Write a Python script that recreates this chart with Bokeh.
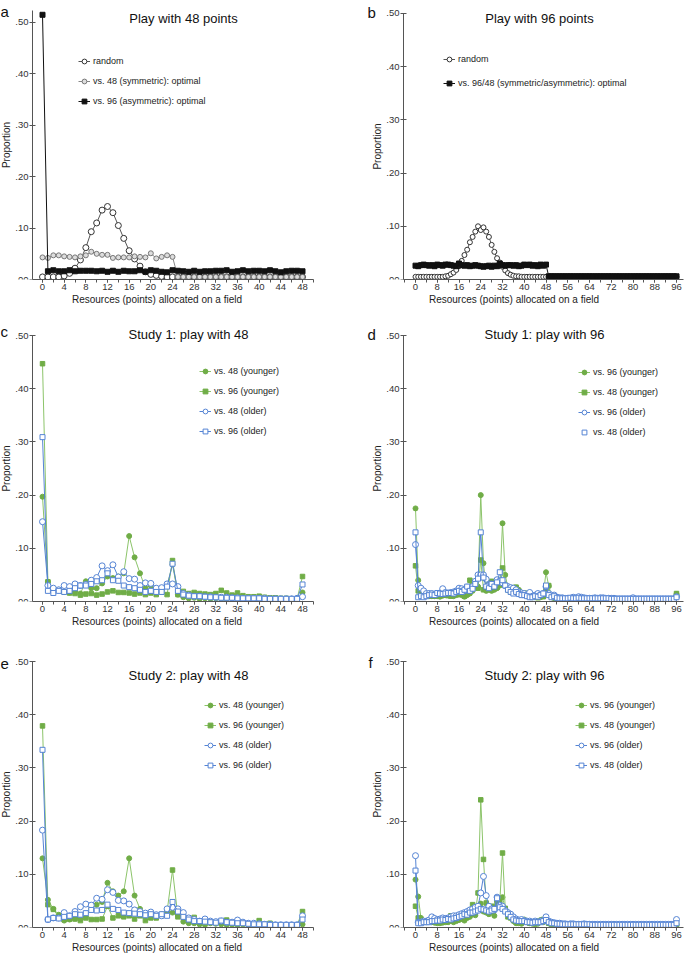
from bokeh.plotting import figure
from bokeh.models import (Range1d, SingleIntervalTicker, FixedTicker, CustomJSTickFormatter,
                          Label, Legend, LegendItem)
from bokeh.layouts import column, row
from bokeh.embed import file_html
from bokeh.resources import INLINE

FONT = "Liberation Sans"
GREEN = "#70AD47"
GREEN_LINE = "#8cc46a"
BLUE = "#5584d4"

x48 = list(range(49))
x96 = list(range(97))

# ---------------- Panel a: Play with 48 points ----------------
a_random = [0.005, 0.005, 0.005, 0.005, 0.007, 0.012, 0.022, 0.038, 0.062, 0.093,
            0.110, 0.135, 0.142, 0.130, 0.105, 0.080, 0.056, 0.040, 0.026, 0.015,
            0.010, 0.008, 0.006, 0.005, 0.005, 0.005, 0.005, 0.005, 0.005, 0.005,
            0.005, 0.005, 0.005, 0.005, 0.005, 0.005, 0.005, 0.005, 0.005, 0.005,
            0.005, 0.005, 0.005, 0.005, 0.005, 0.005, 0.005, 0.005, 0.005]
a_sym = [0.043, 0.042, 0.047, 0.047, 0.045, 0.044, 0.043, 0.045, 0.047, 0.054,
         0.050, 0.048, 0.048, 0.042, 0.043, 0.043, 0.043, 0.045, 0.044, 0.043,
         0.051, 0.041, 0.044, 0.047, 0.044, 0.005, 0.005, 0.005, 0.005, 0.005,
         0.005, 0.005, 0.005, 0.005, 0.005, 0.005, 0.005, 0.005, 0.005, 0.005,
         0.005, 0.005, 0.005, 0.005, 0.005, 0.005, 0.005, 0.005, 0.005]
a_asym = [0.515, 0.016, 0.018, 0.016, 0.016, 0.018, 0.016, 0.017, 0.017, 0.017,
          0.016, 0.017, 0.015, 0.017, 0.015, 0.017, 0.016, 0.016, 0.018, 0.015,
          0.018, 0.017, 0.015, 0.014, 0.018, 0.017, 0.016, 0.015, 0.017, 0.015,
          0.016, 0.016, 0.017, 0.017, 0.018, 0.015, 0.016, 0.018, 0.016, 0.017,
          0.017, 0.016, 0.018, 0.016, 0.014, 0.016, 0.017, 0.017, 0.016]

# ---------------- Panel b: Play with 96 points ----------------
b_random = [0.005, 0.005, 0.005, 0.005, 0.005, 0.005, 0.005, 0.005, 0.005, 0.005,
            0.005, 0.006, 0.007, 0.010, 0.013, 0.018, 0.025, 0.035, 0.046, 0.056,
            0.070, 0.080, 0.090, 0.100, 0.093, 0.098, 0.090, 0.080, 0.065, 0.052,
            0.040, 0.032, 0.024, 0.017, 0.012, 0.009, 0.007, 0.006, 0.006, 0.005,
            0.005, 0.005, 0.005, 0.005, 0.005, 0.005, 0.005, 0.005, 0.005, 0.005,
            0.005, 0.005, 0.005, 0.005, 0.005, 0.005, 0.005, 0.005, 0.005, 0.005,
            0.005, 0.005, 0.005, 0.005, 0.005, 0.005, 0.005, 0.005, 0.005, 0.005,
            0.005, 0.005, 0.005, 0.005, 0.005, 0.005, 0.005, 0.005, 0.005, 0.005,
            0.005, 0.005, 0.005, 0.005, 0.005, 0.005, 0.005, 0.005, 0.005, 0.005,
            0.005, 0.005, 0.005, 0.005, 0.005, 0.005, 0.005]
b_opt = [0.026, 0.025, 0.027, 0.028, 0.027, 0.026, 0.027, 0.025, 0.028, 0.027,
         0.026, 0.028, 0.028, 0.027, 0.026, 0.025, 0.030, 0.027, 0.026, 0.027,
         0.025, 0.026, 0.027, 0.026, 0.025, 0.024, 0.025, 0.026, 0.024, 0.026,
         0.025, 0.030, 0.027, 0.026, 0.027, 0.027, 0.026, 0.027, 0.025, 0.026,
         0.028, 0.027, 0.028, 0.026, 0.027, 0.025, 0.028, 0.026, 0.028, 0.006,
         0.006, 0.006, 0.006, 0.006, 0.006, 0.006, 0.006, 0.006, 0.006, 0.006,
         0.006, 0.006, 0.006, 0.006, 0.006, 0.006, 0.006, 0.006, 0.006, 0.006,
         0.006, 0.006, 0.006, 0.006, 0.006, 0.006, 0.006, 0.006, 0.006, 0.006,
         0.006, 0.006, 0.006, 0.006, 0.006, 0.006, 0.006, 0.006, 0.006, 0.006,
         0.006, 0.006, 0.006, 0.006, 0.006, 0.006, 0.006]

# ---------------- Panel c: Study 1, play with 48 ----------------
c_g48 = [0.197, 0.037, 0.020, 0.022, 0.018, 0.017, 0.020, 0.015, 0.038, 0.025,
         0.025, 0.034, 0.047, 0.044, 0.047, 0.053, 0.123, 0.083, 0.053, 0.025,
         0.030, 0.018, 0.022, 0.030, 0.070, 0.013, 0.008, 0.006, 0.007, 0.005,
         0.006, 0.005, 0.006, 0.005, 0.005, 0.006, 0.005, 0.005, 0.005, 0.006,
         0.005, 0.005, 0.005, 0.005, 0.005, 0.005, 0.005, 0.005, 0.017]
c_g96 = [0.447, 0.037, 0.020, 0.022, 0.018, 0.016, 0.015, 0.012, 0.014, 0.015,
         0.012, 0.014, 0.018, 0.020, 0.017, 0.017, 0.016, 0.014, 0.016, 0.013,
         0.016, 0.013, 0.018, 0.013, 0.077, 0.013, 0.019, 0.015, 0.017, 0.015,
         0.014, 0.013, 0.015, 0.021, 0.016, 0.012, 0.016, 0.011, 0.009, 0.009,
         0.010, 0.008, 0.007, 0.007, 0.006, 0.006, 0.005, 0.005, 0.047]
c_b48 = [0.150, 0.030, 0.025, 0.022, 0.030, 0.028, 0.033, 0.030, 0.032, 0.040,
         0.045, 0.067, 0.058, 0.069, 0.046, 0.056, 0.043, 0.042, 0.030, 0.035,
         0.034, 0.025, 0.026, 0.033, 0.033, 0.028, 0.015, 0.012, 0.010, 0.010,
         0.009, 0.009, 0.008, 0.008, 0.008, 0.007, 0.007, 0.006, 0.006, 0.006,
         0.006, 0.006, 0.005, 0.005, 0.005, 0.005, 0.005, 0.006, 0.009]
c_b96 = [0.309, 0.020, 0.016, 0.020, 0.018, 0.020, 0.025, 0.030, 0.030, 0.033,
         0.038, 0.040, 0.053, 0.040, 0.039, 0.030, 0.027, 0.025, 0.022, 0.018,
         0.020, 0.018, 0.018, 0.028, 0.071, 0.020, 0.013, 0.011, 0.010, 0.010,
         0.009, 0.008, 0.008, 0.007, 0.007, 0.007, 0.006, 0.006, 0.006, 0.006,
         0.006, 0.005, 0.005, 0.005, 0.005, 0.005, 0.005, 0.005, 0.032]

# ---------------- Panel d: Study 1, play with 96 ----------------
d_g96 = [0.175, 0.040, 0.020, 0.015, 0.012, 0.010, 0.010, 0.010, 0.010, 0.009,
         0.011, 0.012, 0.012, 0.011, 0.010, 0.012, 0.013, 0.012, 0.009, 0.012,
         0.015, 0.020, 0.030, 0.028, 0.200, 0.072, 0.020, 0.022, 0.020, 0.022,
         0.025, 0.030, 0.147, 0.050, 0.025, 0.022, 0.020, 0.026, 0.022, 0.015,
         0.014, 0.012, 0.010, 0.008, 0.010, 0.009, 0.008, 0.012, 0.055, 0.029,
         0.008, 0.006, 0.005, 0.005, 0.005, 0.005, 0.005, 0.004, 0.005, 0.005,
         0.005, 0.005, 0.004, 0.005, 0.005, 0.004, 0.005, 0.005, 0.004, 0.004,
         0.004, 0.005, 0.004, 0.004, 0.004, 0.004, 0.004, 0.004, 0.004, 0.004,
         0.004, 0.004, 0.004, 0.004, 0.004, 0.004, 0.004, 0.004, 0.004, 0.004,
         0.004, 0.004, 0.004, 0.004, 0.004, 0.004, 0.014]
d_g48 = [0.067, 0.020, 0.018, 0.013, 0.012, 0.010, 0.011, 0.010, 0.010, 0.011,
         0.013, 0.012, 0.011, 0.010, 0.012, 0.013, 0.015, 0.014, 0.010, 0.014,
         0.040, 0.033, 0.036, 0.025, 0.078, 0.022, 0.023, 0.035, 0.038, 0.033,
         0.027, 0.035, 0.063, 0.030, 0.022, 0.018, 0.026, 0.027, 0.018, 0.014,
         0.016, 0.012, 0.010, 0.009, 0.008, 0.007, 0.010, 0.009, 0.020, 0.030,
         0.010, 0.008, 0.006, 0.006, 0.005, 0.005, 0.005, 0.005, 0.005, 0.005,
         0.005, 0.005, 0.005, 0.005, 0.005, 0.005, 0.005, 0.005, 0.005, 0.005,
         0.005, 0.005, 0.005, 0.004, 0.004, 0.004, 0.004, 0.004, 0.004, 0.004,
         0.004, 0.004, 0.004, 0.004, 0.004, 0.004, 0.004, 0.004, 0.004, 0.004,
         0.004, 0.004, 0.004, 0.004, 0.004, 0.004, 0.015]
d_b96 = [0.107, 0.030, 0.025, 0.020, 0.015, 0.015, 0.015, 0.013, 0.014, 0.016,
         0.024, 0.017, 0.016, 0.017, 0.018, 0.020, 0.025, 0.024, 0.020, 0.027,
         0.026, 0.028, 0.038, 0.050, 0.050, 0.050, 0.042, 0.030, 0.033, 0.030,
         0.041, 0.038, 0.035, 0.030, 0.028, 0.026, 0.025, 0.022, 0.018, 0.016,
         0.015, 0.013, 0.017, 0.010, 0.012, 0.015, 0.013, 0.015, 0.028, 0.015,
         0.012, 0.012, 0.008, 0.007, 0.007, 0.006, 0.006, 0.006, 0.008, 0.007,
         0.009, 0.008, 0.007, 0.006, 0.006, 0.006, 0.007, 0.006, 0.007, 0.007,
         0.006, 0.006, 0.006, 0.006, 0.005, 0.005, 0.005, 0.005, 0.005, 0.005,
         0.007, 0.005, 0.005, 0.005, 0.005, 0.005, 0.005, 0.005, 0.005, 0.005,
         0.005, 0.005, 0.005, 0.005, 0.005, 0.005, 0.009]
d_b48 = [0.130, 0.008, 0.010, 0.008, 0.010, 0.012, 0.013, 0.012, 0.016, 0.015,
         0.014, 0.015, 0.016, 0.016, 0.015, 0.018, 0.020, 0.018, 0.022, 0.028,
         0.020, 0.024, 0.033, 0.043, 0.130, 0.045, 0.028, 0.025, 0.033, 0.028,
         0.036, 0.055, 0.040, 0.030, 0.022, 0.018, 0.015, 0.018, 0.014, 0.012,
         0.012, 0.010, 0.008, 0.008, 0.010, 0.009, 0.012, 0.015, 0.030, 0.012,
         0.008, 0.010, 0.007, 0.006, 0.006, 0.006, 0.006, 0.007, 0.006, 0.006,
         0.007, 0.006, 0.006, 0.006, 0.006, 0.006, 0.006, 0.006, 0.006, 0.006,
         0.006, 0.006, 0.005, 0.005, 0.005, 0.005, 0.005, 0.005, 0.005, 0.005,
         0.005, 0.005, 0.005, 0.005, 0.005, 0.005, 0.005, 0.005, 0.005, 0.005,
         0.005, 0.005, 0.005, 0.005, 0.005, 0.005, 0.008]

# ---------------- Panel e: Study 2, play with 48 ----------------
e_g48 = [0.130, 0.052, 0.035, 0.024, 0.013, 0.015, 0.017, 0.017, 0.020, 0.035,
         0.043, 0.048, 0.084, 0.068, 0.060, 0.068, 0.130, 0.060, 0.035, 0.022,
         0.024, 0.023, 0.025, 0.030, 0.028, 0.022, 0.011, 0.008, 0.008, 0.006,
         0.005, 0.008, 0.007, 0.006, 0.005, 0.005, 0.005, 0.006, 0.005, 0.005,
         0.005, 0.005, 0.005, 0.005, 0.005, 0.005, 0.005, 0.005, 0.006]
e_g96 = [0.379, 0.043, 0.034, 0.020, 0.015, 0.016, 0.016, 0.013, 0.018, 0.015,
         0.015, 0.016, 0.040, 0.018, 0.022, 0.020, 0.022, 0.016, 0.022, 0.013,
         0.018, 0.018, 0.022, 0.030, 0.108, 0.020, 0.020, 0.015, 0.019, 0.010,
         0.010, 0.010, 0.010, 0.010, 0.014, 0.008, 0.007, 0.007, 0.007, 0.007,
         0.013, 0.006, 0.008, 0.005, 0.005, 0.005, 0.005, 0.005, 0.030]
e_b48 = [0.183, 0.015, 0.018, 0.018, 0.028, 0.022, 0.030, 0.039, 0.044, 0.042,
         0.055, 0.053, 0.071, 0.066, 0.051, 0.050, 0.044, 0.033, 0.030, 0.027,
         0.029, 0.024, 0.022, 0.035, 0.038, 0.035, 0.028, 0.018, 0.015, 0.012,
         0.016, 0.012, 0.011, 0.012, 0.010, 0.010, 0.014, 0.010, 0.008, 0.008,
         0.007, 0.006, 0.006, 0.005, 0.005, 0.005, 0.005, 0.005, 0.022]
e_b96 = [0.334, 0.015, 0.018, 0.017, 0.020, 0.022, 0.025, 0.024, 0.027, 0.033,
         0.032, 0.033, 0.043, 0.035, 0.033, 0.028, 0.027, 0.026, 0.025, 0.023,
         0.025, 0.022, 0.025, 0.022, 0.048, 0.030, 0.020, 0.015, 0.012, 0.012,
         0.011, 0.010, 0.009, 0.013, 0.010, 0.009, 0.008, 0.008, 0.007, 0.006,
         0.006, 0.006, 0.005, 0.005, 0.005, 0.005, 0.005, 0.005, 0.015]

# ---------------- Panel f: Study 2, play with 96 ----------------
f_g96 = [0.090, 0.058, 0.018, 0.012, 0.010, 0.010, 0.010, 0.009, 0.008, 0.008,
         0.009, 0.010, 0.010, 0.012, 0.010, 0.012, 0.014, 0.016, 0.013, 0.018,
         0.020, 0.025, 0.023, 0.035, 0.045, 0.030, 0.028, 0.025, 0.030, 0.022,
         0.050, 0.055, 0.057, 0.035, 0.025, 0.020, 0.012, 0.008, 0.008, 0.007,
         0.015, 0.010, 0.008, 0.007, 0.006, 0.007, 0.014, 0.010, 0.015, 0.008,
         0.006, 0.005, 0.005, 0.005, 0.005, 0.004, 0.004, 0.004, 0.004, 0.004,
         0.004, 0.004, 0.004, 0.004, 0.004, 0.004, 0.004, 0.004, 0.004, 0.004,
         0.004, 0.004, 0.004, 0.004, 0.004, 0.004, 0.004, 0.004, 0.004, 0.004,
         0.004, 0.004, 0.004, 0.004, 0.004, 0.004, 0.004, 0.004, 0.004, 0.004,
         0.004, 0.004, 0.004, 0.004, 0.004, 0.004, 0.005]
f_g48 = [0.040, 0.018, 0.010, 0.010, 0.012, 0.012, 0.015, 0.013, 0.012, 0.012,
         0.012, 0.013, 0.014, 0.022, 0.015, 0.018, 0.018, 0.020, 0.020, 0.022,
         0.026, 0.043, 0.028, 0.065, 0.240, 0.128, 0.046, 0.038, 0.040, 0.038,
         0.045, 0.048, 0.140, 0.036, 0.020, 0.018, 0.015, 0.010, 0.010, 0.010,
         0.012, 0.010, 0.008, 0.008, 0.010, 0.012, 0.012, 0.015, 0.012, 0.008,
         0.006, 0.006, 0.005, 0.005, 0.005, 0.005, 0.005, 0.005, 0.005, 0.005,
         0.005, 0.005, 0.005, 0.005, 0.005, 0.005, 0.005, 0.005, 0.005, 0.005,
         0.005, 0.005, 0.005, 0.005, 0.005, 0.005, 0.005, 0.005, 0.005, 0.005,
         0.005, 0.005, 0.005, 0.005, 0.005, 0.005, 0.005, 0.005, 0.005, 0.005,
         0.005, 0.005, 0.005, 0.005, 0.005, 0.005, 0.005]
f_b96 = [0.135, 0.010, 0.010, 0.012, 0.012, 0.014, 0.020, 0.017, 0.015, 0.016,
         0.018, 0.017, 0.018, 0.020, 0.022, 0.022, 0.024, 0.026, 0.028, 0.030,
         0.033, 0.035, 0.038, 0.040, 0.065, 0.096, 0.060, 0.040, 0.035, 0.033,
         0.057, 0.042, 0.040, 0.032, 0.028, 0.025, 0.020, 0.016, 0.014, 0.015,
         0.013, 0.012, 0.012, 0.010, 0.012, 0.010, 0.012, 0.013, 0.020, 0.012,
         0.010, 0.009, 0.008, 0.008, 0.007, 0.007, 0.006, 0.007, 0.007, 0.006,
         0.006, 0.006, 0.007, 0.006, 0.006, 0.006, 0.006, 0.006, 0.006, 0.006,
         0.006, 0.006, 0.006, 0.006, 0.006, 0.006, 0.006, 0.006, 0.006, 0.006,
         0.006, 0.006, 0.006, 0.006, 0.006, 0.006, 0.006, 0.006, 0.006, 0.006,
         0.006, 0.006, 0.006, 0.006, 0.006, 0.006, 0.015]
f_b48 = [0.107, 0.008, 0.008, 0.010, 0.010, 0.010, 0.012, 0.012, 0.013, 0.013,
         0.015, 0.014, 0.016, 0.015, 0.017, 0.018, 0.020, 0.022, 0.025, 0.024,
         0.028, 0.028, 0.030, 0.032, 0.035, 0.034, 0.032, 0.030, 0.032, 0.035,
         0.055, 0.038, 0.035, 0.030, 0.025, 0.020, 0.015, 0.013, 0.012, 0.012,
         0.012, 0.010, 0.010, 0.009, 0.010, 0.010, 0.010, 0.012, 0.014, 0.010,
         0.008, 0.008, 0.007, 0.007, 0.006, 0.006, 0.006, 0.006, 0.006, 0.006,
         0.006, 0.006, 0.006, 0.006, 0.006, 0.005, 0.005, 0.005, 0.005, 0.005,
         0.005, 0.005, 0.005, 0.005, 0.005, 0.005, 0.005, 0.005, 0.005, 0.005,
         0.005, 0.005, 0.005, 0.005, 0.005, 0.005, 0.005, 0.005, 0.005, 0.005,
         0.005, 0.005, 0.005, 0.005, 0.005, 0.005, 0.008]

y_ticks = [0.0, 0.1, 0.2, 0.3, 0.4, 0.5]
x_label = "Resources (points) allocated on a field"
y_label = "Proportion"


class Geo:
    """Page-pixel geometry of one panel.  The frame fills the figure except the
    x-axis strip below and a thin margin on the right; the y axis is drawn at a
    fixed location inside the frame so that the panel letter can sit left of it."""
    def __init__(self, fig_left, fig_top, width, height, frame_right, frame_bottom,
                 axis_x, zero_x, px_per_unit):
        self.fig_left, self.fig_top = fig_left, fig_top
        self.width, self.height = width, height
        self.frame_left = fig_left
        self.frame_right, self.frame_bottom = frame_right, frame_bottom
        self.axis_x, self.zero_x, self.ppu = axis_x, zero_x, px_per_unit

    def data_x(self, page_x):
        return (page_x - self.zero_x) / self.ppu

    def rx(self, page_x):
        return page_x - self.frame_left

    def ry(self, page_y):
        return self.frame_bottom - page_y


def make_panel(g, y_top, y_bound, interval, letter, letter_pos, title, title_pos):
    x_start = g.data_x(g.frame_left)
    x_end = g.data_x(g.frame_right)
    x_axis_at = g.data_x(g.axis_x)
    p = figure(width=g.width, height=g.height, x_range=Range1d(x_start, x_end),
               y_range=Range1d(0, y_top),
               output_backend="svg", toolbar_location=None,
               min_border_left=0,
               min_border_right=g.fig_left + g.width - g.frame_right,
               min_border_top=0,
               min_border_bottom=g.fig_top + g.height - g.frame_bottom)
    p.outline_line_color = None
    p.grid.visible = False
    p.background_fill_color = None
    p.border_fill_color = "white"

    xa = p.xaxis[0]
    xa.ticker = SingleIntervalTicker(interval=interval, num_minor_ticks=2)
    xa.axis_label = x_label
    xa.bounds = (x_axis_at, x_end)
    ya = p.yaxis[0]
    ya.ticker = FixedTicker(ticks=y_ticks, minor_ticks=[])
    ya.formatter = CustomJSTickFormatter(code="return tick.toFixed(2).replace(/^0/, '');")
    ya.axis_label = y_label
    ya.bounds = (0, y_bound)
    ya.fixed_location = x_axis_at
    for ax in (xa, ya):
        ax.axis_line_color = "#555555"
        ax.major_tick_line_color = "#555555"
        ax.minor_tick_line_color = "#555555"
        ax.major_label_text_font = FONT
        ax.major_label_text_font_size = "9.5px"
        ax.major_label_text_color = "#333333"
        ax.axis_label_text_font = FONT
        ax.axis_label_text_font_size = "10px"
        ax.axis_label_text_font_style = "normal"
        ax.axis_label_text_color = "#222222"
    xa.major_tick_in = 0
    xa.major_tick_out = 3
    xa.minor_tick_in = 0
    xa.minor_tick_out = 3
    xa.major_label_standoff = 1
    xa.axis_label_standoff = 1
    ya.major_tick_in = 3
    ya.major_tick_out = 3
    ya.major_label_standoff = 1
    ya.axis_label_standoff = 0

    p.add_layout(Label(x=g.rx(title_pos[0]), y=g.ry(title_pos[1]),
                       x_units="screen", y_units="screen",
                       text=title, text_align="center", text_baseline="middle",
                       text_font=FONT, text_font_size="13px", text_color="#111111"))
    p.add_layout(Label(x=g.rx(letter_pos[0]), y=g.ry(letter_pos[1]),
                       x_units="screen", y_units="screen",
                       text=letter, text_align="left", text_baseline="alphabetic",
                       text_font=FONT, text_font_size="15px", text_color="#111111"))
    return p


def add_series(p, x, y, line_color, marker, size, fill, outline, lw=1.0):
    ln = p.line(x, y, line_color=line_color, line_width=lw)
    sc = p.scatter(x, y, marker=marker, size=size, fill_color=fill, line_color=outline,
                   line_width=1)
    return ln, sc


def add_legend(p, g, items, glyph_left, top, spacing):
    n = len(items)
    lh = 12 * n + spacing * (n - 1)
    leg = Legend(items=items, location=(g.rx(glyph_left), g.ry(top + lh)),
                 orientation="vertical", spacing=spacing, padding=0, margin=0,
                 glyph_width=12, glyph_height=12, label_height=12, label_standoff=3,
                 label_text_font=FONT, label_text_font_size="9px",
                 label_text_color="#222222",
                 border_line_color=None, background_fill_alpha=0)
    p.add_layout(leg)


# Column / row geometry (page pixels)
C1_LEFT, C1_W = 0, 344
C2_LEFT, C2_W = 344, 341
R1_TOP, R1_H = 0, 308
R2_TOP, R2_H = 308, 326
R3_TOP, R3_H = 634, 322

COL1 = dict(frame_right=313, axis_x=32, zero_x=42, px_per_unit=260 / 48)
COL2 = dict(frame_right=683, axis_x=403, zero_x=415, px_per_unit=261 / 96)

# ---- a ----
ga = Geo(C1_LEFT, R1_TOP, C1_W, R1_H, frame_bottom=279, **COL1)
pa = make_panel(ga, 0.5428, 0.523, 4, "a", (0, 11), "Play with 48 points", (183, 18))
r1 = add_series(pa, x48, a_random, "#555555", "circle", 6, "white", "#333333")
r2 = add_series(pa, x48, a_sym, "#888888", "circle", 5, "#dddddd", "#777777")
r3 = add_series(pa, x48, a_asym, "#111111", "square", 5, "#111111", "#111111")
add_legend(pa, ga, [LegendItem(label="random", renderers=list(r1)),
                    LegendItem(label="vs. 48 (symmetric): optimal", renderers=list(r2)),
                    LegendItem(label="vs. 96 (asymmetric): optimal", renderers=list(r3))],
           78, 55, 8)

# ---- b ----
gb = Geo(C2_LEFT, R1_TOP, C2_W, R1_H, frame_bottom=279, **COL2)
pb = make_panel(gb, 0.5244, 0.5, 8, "b", (367, 12), "Play with 96 points", (539, 18))
s1 = add_series(pb, x96, b_random, "#555555", "circle", 5, "white", "#333333")
s2 = add_series(pb, x96, b_opt, "#111111", "square", 5, "#111111", "#111111")
add_legend(pb, gb, [LegendItem(label="random", renderers=list(s1)),
                    LegendItem(label="vs. 96/48 (symmetric/asymmetric): optimal",
                               renderers=list(s2))],
           443, 53, 12)


def study_panel(g, interval, letter, letter_pos, title, title_pos, x, g1, g2, b1, b2,
                labels, glyph_left, top, last_marker_only=False):
    p = make_panel(g, 0.5508, 0.5, interval, letter, letter_pos, title, title_pos)
    t1 = add_series(p, x, g1, GREEN_LINE, "circle", 5, GREEN, GREEN)
    t2 = add_series(p, x, g2, GREEN_LINE, "square", 4.5, GREEN, GREEN)
    t3 = add_series(p, x, b1, BLUE, "circle", 6, "white", BLUE)
    t4 = add_series(p, x, b2, BLUE, "square", 5, "white", BLUE)
    last = [t4[1]] if last_marker_only else list(t4)
    add_legend(p, g, [LegendItem(label=labels[0], renderers=list(t1)),
                      LegendItem(label=labels[1], renderers=list(t2)),
                      LegendItem(label=labels[2], renderers=list(t3)),
                      LegendItem(label=labels[3], renderers=last)],
               glyph_left, top, 8)
    return p


lab48 = ["vs. 48 (younger)", "vs. 96 (younger)", "vs. 48 (older)", "vs. 96 (older)"]
lab96 = ["vs. 96 (younger)", "vs. 48 (younger)", "vs. 96 (older)", "vs. 48 (older)"]

gc = Geo(C1_LEFT, R2_TOP, C1_W, R2_H, frame_bottom=601, **COL1)
pc = study_panel(gc, 4, "c", (0, 331), "Study 1: play with 48", (188, 334),
                 x48, c_g48, c_g96, c_b48, c_b96, lab48, 199, 365)
gd = Geo(C2_LEFT, R2_TOP, C2_W, R2_H, frame_bottom=601, **COL2)
pd_ = study_panel(gd, 8, "d", (367, 334), "Study 1: play with 96", (544, 334),
                  x96, d_g96, d_g48, d_b96, d_b48, lab96, 578, 366, last_marker_only=True)
ge = Geo(C1_LEFT, R3_TOP, C1_W, R3_H, frame_bottom=927, **COL1)
pe = study_panel(ge, 4, "e", (0, 663), "Study 2: play with 48", (188, 675),
                 x48, e_g48, e_g96, e_b48, e_b96, lab48, 204, 699)
gf = Geo(C2_LEFT, R3_TOP, C2_W, R3_H, frame_bottom=927, **COL2)
pf = study_panel(gf, 8, "f", (368, 662), "Study 2: play with 96", (544, 675),
                 x96, f_g96, f_g48, f_b96, f_b48, lab96, 575, 699)

layout = column(row(pa, pb), row(pc, pd_), row(pe, pf))
open("out.html", "w").write(file_html(layout, INLINE))
